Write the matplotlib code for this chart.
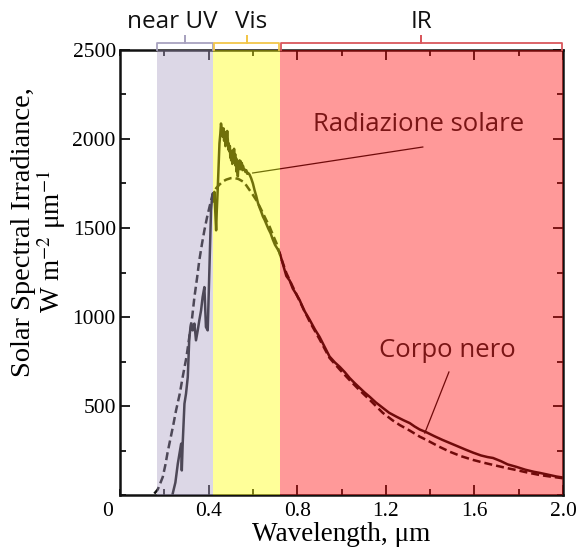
import matplotlib
matplotlib.use("Agg")
import matplotlib.pyplot as plt
from matplotlib.ticker import MultipleLocator, FixedLocator
import matplotlib.transforms as mtransforms

# Measured solar spectral irradiance (W m^-2 um^-1) vs wavelength (um)
solar_wl = [0.238, 0.250, 0.261, 0.268, 0.276, 0.279, 0.283, 0.291, 0.298, 0.306,
            0.313, 0.321, 0.328, 0.336, 0.343, 0.351, 0.358, 0.366, 0.373, 0.381,
            0.385, 0.388, 0.396, 0.400, 0.406, 0.411, 0.415, 0.419, 0.423, 0.426,
            0.430, 0.434, 0.437, 0.441, 0.445, 0.449, 0.453, 0.456, 0.460, 0.464,
            0.467, 0.470, 0.473, 0.476, 0.479, 0.481, 0.484, 0.487, 0.489, 0.491,
            0.494, 0.496, 0.498, 0.500, 0.502, 0.505, 0.507, 0.510, 0.513, 0.515,
            0.518, 0.520, 0.522, 0.525, 0.527, 0.529, 0.532, 0.534, 0.536, 0.540,
            0.543, 0.545, 0.548, 0.550, 0.553, 0.555, 0.558, 0.562, 0.566, 0.570,
            0.574, 0.578, 0.585, 0.592, 0.600, 0.608, 0.615, 0.623,
            0.630, 0.638, 0.645, 0.653, 0.660, 0.670, 0.680, 0.690, 0.700, 0.710,
            0.721, 0.735, 0.751, 0.766, 0.780, 0.795, 0.811, 0.830, 0.856, 0.880,
            0.901, 0.925, 0.946, 0.970, 0.992, 1.015, 1.037, 1.060, 1.082, 1.105,
            1.127, 1.155, 1.186, 1.215, 1.248, 1.280, 1.308, 1.330, 1.353, 1.384,
            1.420, 1.455, 1.489, 1.520, 1.560, 1.594, 1.630, 1.660, 1.684, 1.720,
            1.750, 1.790, 1.830, 1.870, 1.896, 1.940, 1.970, 2.000]
solar_irr = [8, 70, 176, 230, 288, 138, 288, 513, 569, 663,
             888, 963, 925, 963, 869, 925, 981, 1037, 1112, 1168,
             1037, 944, 925, 1112, 1375, 1600, 1660, 1693, 1650, 1703,
             1600, 1487, 1600, 1712, 1850, 1975, 2030, 2087, 2050, 2012,
             2060, 1990, 2040, 1960, 2030, 1995, 2045, 1990, 1940, 1975,
             1930, 1960, 1895, 1935, 1880, 1925, 1860, 1935, 1900, 1945,
             1870, 1915, 1850, 1890, 1815, 1860, 1790, 1840, 1870, 1880,
             1830, 1875, 1840, 1865, 1825, 1850, 1835, 1830, 1815, 1825,
             1805, 1810, 1800, 1780, 1750, 1710, 1680, 1640,
             1615, 1590, 1565, 1545, 1525, 1495, 1470, 1435, 1405, 1385,
             1360, 1300, 1230, 1205, 1160, 1130, 1095, 1040, 985, 930,
             888, 830, 778, 745, 720, 690, 657, 628, 602, 575,
             552, 520, 490, 462, 440, 420, 404, 385, 368, 352,
             330, 310, 292, 275, 255, 238, 222, 213, 208, 190,
             172, 158, 142, 130, 124, 112, 104, 98]

# Black-body curve for comparison
bb_wl = [0.155, 0.170, 0.180, 0.193, 0.205, 0.215, 0.223, 0.240, 0.253, 0.270,
         0.283, 0.300, 0.313, 0.325, 0.336, 0.348, 0.358, 0.370, 0.381, 0.393,
         0.404, 0.419, 0.435, 0.450, 0.465, 0.480, 0.500, 0.517, 0.535, 0.555,
         0.570, 0.585, 0.600, 0.615, 0.630, 0.645, 0.660, 0.676, 0.690, 0.706,
         0.725, 0.751, 0.780, 0.811, 0.856, 0.901, 0.946, 0.992, 1.037, 1.082,
         1.127, 1.186, 1.230, 1.263, 1.308, 1.353, 1.384, 1.440, 1.489, 1.540,
         1.594, 1.640, 1.684, 1.740, 1.790, 1.840, 1.896, 1.940, 2.000]
bb_irr = [8, 30, 60, 101, 170, 240, 288, 390, 475, 570,
          663, 775, 888, 990, 1112, 1220, 1318, 1410, 1487, 1560,
          1618, 1693, 1725, 1745, 1762, 1772, 1780, 1781, 1775, 1761,
          1740, 1713, 1686, 1657, 1622, 1584, 1545, 1506, 1462, 1416,
          1340, 1247, 1170, 1090, 975, 875, 770, 705, 645, 588,
          535, 462, 420, 393, 362, 328, 309, 272, 243, 218,
          197, 182, 169, 153, 140, 126, 112, 104, 94]

# Spectral regions (um)
band_names = ["near UV", "Vis", "IR"]
band_lo = [0.165, 0.422, 0.722]
band_hi = [0.422, 0.722, 2.0]

x_tick_vals = [0.4, 0.8, 1.2, 1.6, 2.0]
x_tick_labels = ["0.4", "0.8", "1.2", "1.6", "2.0"]
y_tick_vals = [500, 1000, 1500, 2000, 2500]
y_tick_labels = ["500", "1000", "1500", "2000", "2500"]

plt.rcParams['mathtext.fontset'] = 'stix'
serif = 'Liberation Serif'
sans = 'Open Sans'

fig = plt.figure(figsize=(5.8, 5.5), dpi=100)
ax = fig.add_axes([120 / 580, 55 / 550, 443 / 580, 445 / 550])

ax.plot(solar_wl, solar_irr, color='#111111', lw=1.8, solid_joinstyle='round', zorder=2)
ax.plot(bb_wl, bb_irr, color='#111111', lw=1.8, linestyle=(0, (3.2, 1.6)), zorder=2)

ax.set_xlim(0, 2.0)
ax.set_ylim(0, 2500)

ax.xaxis.set_major_locator(FixedLocator(x_tick_vals))
ax.set_xticklabels(x_tick_labels)
ax.xaxis.set_minor_locator(MultipleLocator(0.2))
ax.yaxis.set_major_locator(FixedLocator(y_tick_vals))
ax.set_yticklabels(y_tick_labels)
ax.yaxis.set_minor_locator(MultipleLocator(250))

ax.tick_params(which='both', direction='in', top=True, right=True, width=1.3,
               color='#111111')
ax.tick_params(which='major', length=7.5, pad=4)
ax.tick_params(which='minor', length=4.5)
for lab in ax.get_xticklabels() + ax.get_yticklabels():
    lab.set_fontfamily(serif)
    lab.set_fontsize(15.5)
ax.tick_params(axis='x', pad=5)
ax.tick_params(axis='y', pad=3)
for sp in ax.spines.values():
    sp.set_linewidth(1.8)
    sp.set_color('#111111')

ax.annotate('0', xy=(0, 0), xycoords='data', xytext=(-9, -5),
            textcoords='offset points', ha='center', va='top',
            fontfamily=serif, fontsize=15.5)

# Pointer lines from the curve labels
ax.plot([1.367, 0.599], [1955, 1809], color='#111111', lw=0.9, zorder=3)
ax.plot([1.485, 1.376], [691, 348], color='#111111', lw=0.9, zorder=3)

# Translucent colour bands over the spectrum
band_fill = [(0.657, 0.608, 0.755), (1.0, 1.0, 0.0), (1.0, 0.0, 0.0)]
for lo, hi, c in zip(band_lo, band_hi, band_fill):
    ax.axvspan(lo, hi, ymin=0, ymax=1, facecolor=c, alpha=0.4, lw=0, zorder=4)

# Braces above the plot marking each region
trans = mtransforms.blended_transform_factory(ax.transData, ax.transAxes)
brace_col = ['#a8a2bf', '#f2c64a', '#d9575c']
label_x = [0.237, 0.59, 1.363]
y_bar = 1 + 7.3 / 445
y_tip = 1 + 14 / 445
for lo, hi, c, name, lx in zip(band_lo, band_hi, brace_col, band_names, label_x):
    mid = (lo + hi) / 2
    ax.plot([lo + 0.004, lo + 0.004, mid, mid, mid, hi - 0.004, hi - 0.004],
            [1.0, y_bar, y_bar, y_tip, y_bar, y_bar, 1.0],
            transform=trans, clip_on=False, color=c, lw=1.3, zorder=5,
            solid_joinstyle='round')
    ax.text(lx, 1 + 21.5 / 445, name, transform=trans, ha='center', va='baseline',
            fontfamily=sans, fontsize=17.5, color='#111111')

ax.text(1.349, 2084, 'Radiazione solare', ha='center', va='center',
        fontfamily=sans, fontsize=18.5, color='#7a1515', zorder=6)
ax.text(1.478, 809, 'Corpo nero', ha='center', va='center',
        fontfamily=sans, fontsize=18.5, color='#7a1515', zorder=6)

ax.set_xlabel('Wavelength, μm', fontfamily=serif, fontsize=19.5, labelpad=1)

fig.text(24 / 580, 1 - 232 / 550, 'Solar Spectral Irradiance,', rotation=90,
         ha='center', va='center', fontfamily=serif, fontsize=20.5)
fig.text(51 / 580, 1 - 242 / 550, 'W m$^{-2}$ μm$^{-1}$', rotation=90,
         ha='center', va='center', fontfamily=serif, fontsize=19.5)

fig.savefig('out.png', dpi=100)
